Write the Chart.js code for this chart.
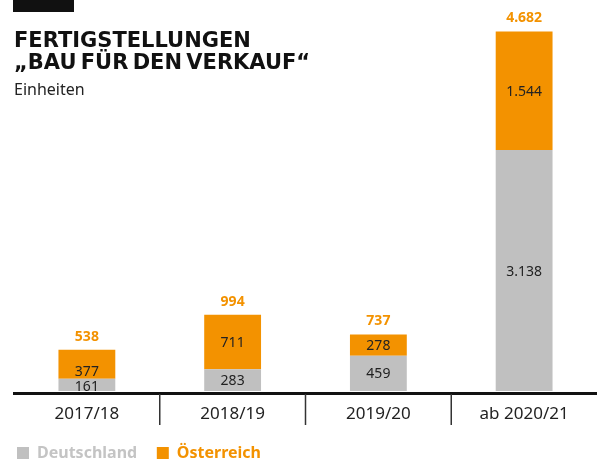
<!DOCTYPE html>
<html lang="de">
<head>
<meta charset="utf-8">
<title>Fertigstellungen Bau für den Verkauf</title>
<script src="https://cdn.jsdelivr.net/npm/chart.js@4.4.1/dist/chart.umd.min.js"></script>
<style>
    html, body { margin: 0; padding: 0; background: #fff; }
    #wrap { position: relative; width: 597px; height: 464px; }
    #chart { position: absolute; left: 0; top: 0; }
    .kopf-balken { position: absolute; left: 13px; top: 0; width: 61px; height: 12px; background: #111; }
    .titel {
        position: absolute; left: 14px; top: 29px;
        font-family: "DejaVu Sans", sans-serif; font-weight: bold;
        font-size: 21px; line-height: 22px; color: #111; word-spacing: -3px;
    }
    .einheit {
        position: absolute; left: 14px; top: 78px;
        font-family: "Noto Sans", sans-serif; font-size: 16px; color: #222;
    }
</style>
</head>
<body>
<div id="wrap">
    <canvas id="chart" width="597" height="464"></canvas>
    <div class="kopf-balken"></div>
    <div class="titel">FERTIGSTELLUNGEN<br>„BAU FÜR DEN VERKAUF“</div>
    <div class="einheit">Einheiten</div>
</div>
<script>
// Fertigstellungen je Geschäftsjahr (Einheiten)
const jahre = ['2017/18', '2018/19', '2019/20', 'ab 2020/21'];
const deutschland = [161, 283, 459, 3138];
const oesterreich = [377, 711, 278, 1544];

const GRAU = '#c0c0c0';
const ORANGE = '#f39200';
const SCHRIFT = '"Noto Sans", sans-serif';

// Tausenderpunkt wie im Deutschen üblich
function fmt(n) {
    return String(n).replace(/\B(?=(\d{3})+(?!\d))/g, '.');
}

const summen = jahre.map((_, i) => deutschland[i] + oesterreich[i]);

// Werte in die Segmente, Summe in Orange über den Balken
const wertePlugin = {
    id: 'werte',
    afterDatasetsDraw(chart) {
        const ctx = chart.ctx;
        const unten = chart.getDatasetMeta(0).data;
        const oben = chart.getDatasetMeta(1).data;
        ctx.save();
        ctx.textAlign = 'center';
        ctx.textBaseline = 'middle';
        ctx.font = '14px ' + SCHRIFT;
        ctx.fillStyle = '#222';
        unten.forEach((el, i) => {
            const h = el.base - el.y;
            // zu flaches Segment: Zahl an die Unterkante, Orange-Wert rückt nach
            const knapp = h < 16;
            const yU = knapp ? el.base - 4 : (el.y + el.base) / 2 + 1;
            const o = oben[i];
            const yO = knapp ? yU - 15 : (o.y + o.base) / 2 + 1;
            ctx.fillText(fmt(deutschland[i]), el.x, yU);
            ctx.fillText(fmt(oesterreich[i]), o.x, yO);
        });
        ctx.font = 'bold 14px ' + SCHRIFT;
        ctx.fillStyle = ORANGE;
        oben.forEach((el, i) => {
            ctx.fillText(fmt(summen[i]), el.x, el.y - 13);
        });
        ctx.restore();
    }
};

// senkrechte Trennstriche zwischen den Jahren unter der Achse
const trennPlugin = {
    id: 'trenner',
    afterDraw(chart) {
        const x = chart.scales.x;
        const ctx = chart.ctx;
        ctx.save();
        ctx.strokeStyle = '#333';
        ctx.lineWidth = 1.5;
        for (let i = 1; i < jahre.length; i++) {
            const px = (x.getPixelForTick(i - 1) + x.getPixelForTick(i)) / 2;
            ctx.beginPath();
            ctx.moveTo(px, x.top + 1);
            ctx.lineTo(px, x.top + 32);
            ctx.stroke();
        }
        ctx.restore();
    }
};

new Chart(document.getElementById('chart'), {
    type: 'bar',
    data: {
        labels: jahre,
        datasets: [
            { label: 'Deutschland', data: deutschland, backgroundColor: GRAU },
            { label: '\u00d6sterreich', data: oesterreich, backgroundColor: ORANGE }
        ]
    },
    options: {
        responsive: false,
        animation: false,
        layout: { padding: { left: 14, right: 0, top: 7, bottom: -7 } },
        datasets: { bar: { barPercentage: 0.39, categoryPercentage: 1 } },
        plugins: {
            tooltip: { enabled: false },
            legend: {
                position: 'bottom',
                align: 'start',
                labels: {
                    boxWidth: 12,
                    boxHeight: 12,
                    padding: 3,
                    font: { family: SCHRIFT, size: 16, weight: 'bold', lineHeight: 1.4 },
                    generateLabels(chart) {
                        return chart.data.datasets.map((ds, i) => ({
                            // Abstand zum nächsten Eintrag über geschützte Leerzeichen
                            text: i === 0 ? ds.label + '\u00a0\u00a0\u00a0\u00a0' : ds.label,
                            fillStyle: ds.backgroundColor,
                            strokeStyle: ds.backgroundColor,
                            lineWidth: 0,
                            fontColor: i === 0 ? '#c4c4c4' : ORANGE,
                            datasetIndex: i
                        }));
                    }
                }
            }
        },
        scales: {
            x: {
                stacked: true,
                border: { display: true, color: '#111', width: 3 },
                grid: { display: false, drawTicks: false },
                ticks: {
                    padding: 11,
                    color: '#222',
                    font: { family: SCHRIFT, size: 17 }
                },
                afterFit(scale) { scale.height = 49; }
            },
            y: {
                stacked: true,
                display: false,
                min: -25,
                max: 5000
            }
        }
    },
    plugins: [wertePlugin, trennPlugin]
});
</script>
</body>
</html>
